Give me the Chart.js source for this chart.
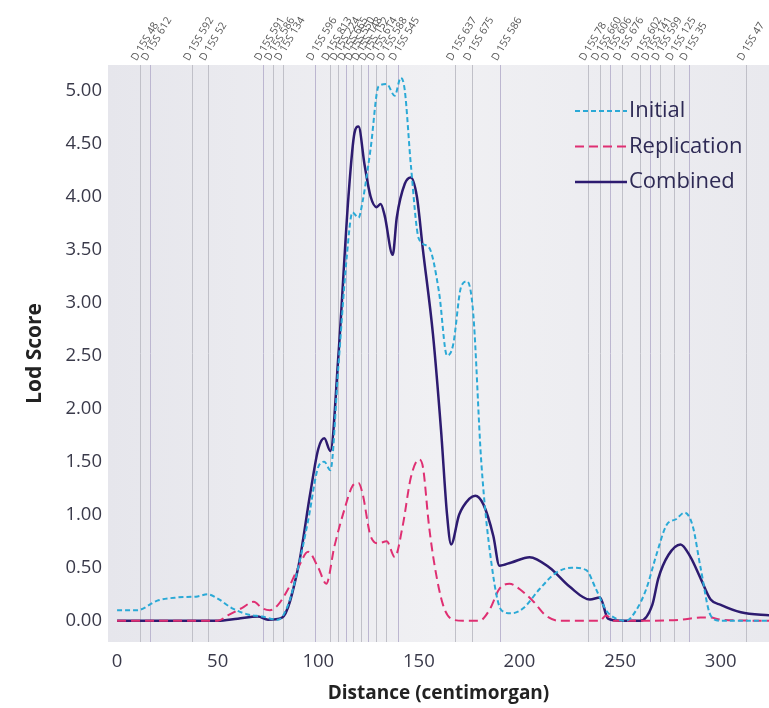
<!DOCTYPE html>
<html>
<head>
<meta charset="utf-8">
<script src="https://cdn.jsdelivr.net/npm/chart.js@4/dist/chart.umd.min.js"></script>
<style>
  html, body { margin: 0; padding: 0; background: #fff; }
  #wrap { width: 769px; height: 708px; }
</style>
</head>
<body>
<div id="wrap"><canvas id="lodChart" width="769" height="708"></canvas></div>
<script>
// Ticks
const xTicks = [0, 50, 100, 150, 200, 250, 300];
const yTicks = [0, 0.5, 1, 1.5, 2, 2.5, 3, 3.5, 4, 4.5, 5];

// Markers (position in cM and name)
const markerPos = [11.4, 16.4, 37.3, 45.3, 72.6, 77.6, 82.6, 98.5, 106, 110, 114, 117.5, 121, 124.5, 128.5, 133.5, 139.5, 168, 176.5, 190.5, 234, 240, 245, 251, 260, 265, 270, 277, 284, 312.5];
const markerNames = ['D 15S 48', 'D 15S 612', 'D 15S 592', 'D 15S 52', 'D 15S 591', 'D 15S 586', 'D 15S 134',
  'D 15S 596', 'D 15S 813', 'D 15S 224', 'D 15S 665', 'D 15S 550', 'D 15S 148', 'D 15S 152', 'D 15S 614', 'D 15S 588', 'D 15S 545',
  'D 15S 637', 'D 15S 675', 'D 15S 586', 'D 15S 78', 'D 15S 660', 'D 15S 606', 'D 15S 676', 'D 15S 602', 'D 15S 141',
  'D 15S 599', 'D 15S 125', 'D 15S 35', 'D 15S 47'];

// Initial
const initialX = [0, 10, 20, 30, 40, 45, 50, 57, 65, 72, 80, 85, 90, 95, 100, 103, 106, 110, 114, 117, 120, 122, 126, 130, 134, 138, 141, 143, 146, 150, 155, 160, 164, 167, 171, 174, 177, 181, 186, 191, 196, 202, 210, 218, 226, 233, 238, 243, 248, 253, 258, 263, 268, 273, 278, 282, 286, 290, 295, 300, 325];
const initialY = [0.1, 0.1, 0.19, 0.22, 0.23, 0.25, 0.21, 0.12, 0.06, 0.04, 0.01, 0.15, 0.5, 0.95, 1.45, 1.5, 1.42, 2.4, 3.4, 3.85, 3.8, 3.95, 4.45, 5.04, 5.06, 4.95, 5.12, 5.0, 4.3, 3.6, 3.52, 3.1, 2.5, 2.6, 3.15, 3.2, 2.9, 1.5, 0.55, 0.1, 0.07, 0.12, 0.3, 0.45, 0.5, 0.48, 0.3, 0.1, 0.02, 0, 0.1, 0.3, 0.62, 0.9, 0.96, 1.02, 0.9, 0.5, 0.05, 0, 0];

// Replication
const replicationX = [0, 50, 55, 62, 68, 72, 76, 80, 85, 90, 95, 100, 104, 108, 113, 117, 120, 122, 126, 130, 134, 138, 142, 146, 150, 152, 155, 158, 162, 166, 172, 180, 185, 190, 195, 200, 207, 213, 220, 240, 243, 247, 260, 280, 290, 295, 300, 325];
const replicationY = [0, 0, 0.05, 0.12, 0.18, 0.12, 0.1, 0.15, 0.3, 0.5, 0.65, 0.5, 0.35, 0.7, 1.05, 1.27, 1.3, 1.2, 0.8, 0.73, 0.75, 0.6, 0.9, 1.35, 1.52, 1.45, 0.9, 0.5, 0.15, 0.02, 0, 0, 0.1, 0.3, 0.35, 0.3, 0.18, 0.05, 0, 0, 0.05, 0, 0, 0.01, 0.03, 0.03, 0.01, 0];

// Combined
const combinedX = [0, 50, 60, 70, 75, 82, 90, 96, 100, 103, 106, 110, 115, 118, 120, 123, 126, 129, 131, 133, 137, 139, 143, 146, 149, 152, 157, 161, 164, 166, 170, 175, 178, 182, 187, 190, 196, 205, 215, 225, 235, 240, 244, 250, 260, 266, 269, 274, 280, 285, 290, 295, 300, 310, 325];
const combinedY = [0, 0, 0.02, 0.04, 0.01, 0.03, 0.5, 1.2, 1.62, 1.72, 1.6, 2.5, 4.0, 4.6, 4.66, 4.3, 4.0, 3.9, 3.93, 3.82, 3.45, 3.8, 4.12, 4.18, 4.0, 3.5, 2.7, 1.8, 1.0, 0.72, 1.0, 1.15, 1.18, 1.1, 0.8, 0.52, 0.55, 0.6, 0.5, 0.32, 0.2, 0.22, 0.02, 0, 0, 0.15, 0.4, 0.62, 0.72, 0.6, 0.4, 0.2, 0.15, 0.08, 0.05];

const toPoints = (xs, ys) => xs.map((x, i) => ({ x: x, y: ys[i] }));

const FONT = '"Open Sans", "Noto Sans", sans-serif';

// plot background + marker lines + rotated marker names
const markerPlugin = {
  id: 'markers',
  beforeDatasetsDraw(chart) {
    const { ctx, chartArea: a, scales } = chart;
    ctx.save();
    const g = ctx.createLinearGradient(a.left, 0, a.right, 0);
    g.addColorStop(0, '#e6e6ec');
    g.addColorStop(0.5, '#f0f0f3');
    g.addColorStop(1, '#e9e9ee');
    ctx.fillStyle = g;
    ctx.fillRect(a.left, a.top, a.right - a.left, a.bottom - a.top);
    ctx.lineWidth = 1;
    markerPos.forEach((p, i) => {
      const x = Math.round(scales.x.getPixelForValue(p)) + 0.5;
      ctx.strokeStyle = i % 3 === 1 ? '#bcb6d0' : '#c0c0c8';
      ctx.beginPath();
      ctx.moveTo(x, a.top);
      ctx.lineTo(x, a.bottom);
      ctx.stroke();
    });
    ctx.restore();
  },
  afterDraw(chart) {
    const { ctx, chartArea: a, scales } = chart;
    ctx.save();
    ctx.font = '10.5px ' + FONT;
    ctx.fillStyle = '#555';
    ctx.textAlign = 'left';
    ctx.textBaseline = 'middle';
    markerPos.forEach((p, i) => {
      const x = scales.x.getPixelForValue(p);
      ctx.save();
      ctx.translate(x - 6, a.top - 5);
      ctx.rotate(-59 * Math.PI / 180);
      ctx.fillText(markerNames[i], 0, 0);
      ctx.restore();
    });
    ctx.restore();
  }
};

// legend inside the plot, top right
const legendPlugin = {
  id: 'innerLegend',
  afterDatasetsDraw(chart) {
    const { ctx, chartArea: a } = chart;
    ctx.save();
    ctx.font = '22px ' + FONT;
    ctx.textBaseline = 'middle';
    chart.data.datasets.forEach((ds, i) => {
      const y = a.top + 46 + i * 35.5;
      const x0 = a.right - 194;
      ctx.strokeStyle = ds.borderColor;
      ctx.lineWidth = ds.borderWidth;
      ctx.setLineDash(ds.borderDash || []);
      ctx.beginPath();
      ctx.moveTo(x0, y);
      ctx.lineTo(x0 + 52, y);
      ctx.stroke();
      ctx.setLineDash([]);
      ctx.fillStyle = '#2e2a55';
      ctx.fillText(ds.label, x0 + 54, y);
    });
    ctx.restore();
  }
};

new Chart(document.getElementById('lodChart').getContext('2d'), {
  type: 'line',
  data: {
    datasets: [{
      label: 'Initial',
      data: toPoints(initialX, initialY),
      borderColor: '#2aa9d6',
      borderWidth: 2,
      borderDash: [5, 3],
      pointRadius: 0,
      cubicInterpolationMode: 'monotone'
    }, {
      label: 'Replication',
      data: toPoints(replicationX, replicationY),
      borderColor: '#df2f72',
      borderWidth: 2,
      borderDash: [9, 5],
      pointRadius: 0,
      cubicInterpolationMode: 'monotone'
    }, {
      label: 'Combined',
      data: toPoints(combinedX, combinedY),
      borderColor: '#2d1b70',
      borderWidth: 2.5,
      pointRadius: 0,
      cubicInterpolationMode: 'monotone'
    }]
  },
  options: {
    responsive: false,
    animation: false,
    layout: { padding: { top: 65, right: 0, left: 0, bottom: 3 } },
    plugins: {
      legend: { display: false },
      tooltip: { enabled: false }
    },
    scales: {
      x: {
        type: 'linear',
        min: -4.5,
        max: 324,
        afterBuildTicks: (axis) => { axis.ticks = xTicks.map(v => ({ value: v })); },
        grid: { display: false, drawTicks: false },
        border: { display: false },
        ticks: { color: '#3a3a4a', font: { family: FONT, size: 18.5 }, padding: 9, maxRotation: 0 },
        title: { display: true, text: 'Distance (centimorgan)', color: '#222', font: { family: FONT, size: 19, weight: 'bold' }, padding: { top: 0, bottom: 0 } }
      },
      y: {
        min: -0.2,
        max: 5.24,
        afterBuildTicks: (axis) => { axis.ticks = yTicks.map(v => ({ value: v })); },
        afterFit: (axis) => { axis.width = 108; },
        grid: { display: false, drawTicks: false },
        border: { display: false },
        ticks: { color: '#3a3a4a', font: { family: FONT, size: 18.5 }, padding: 6, callback: (v) => Number(v).toFixed(2) },
        title: { display: true, text: 'Lod Score', color: '#222', font: { family: FONT, size: 21, weight: 'bold' }, padding: { top: 22, bottom: 4 } }
      }
    }
  },
  plugins: [markerPlugin, legendPlugin]
});
</script>
</body>
</html>
